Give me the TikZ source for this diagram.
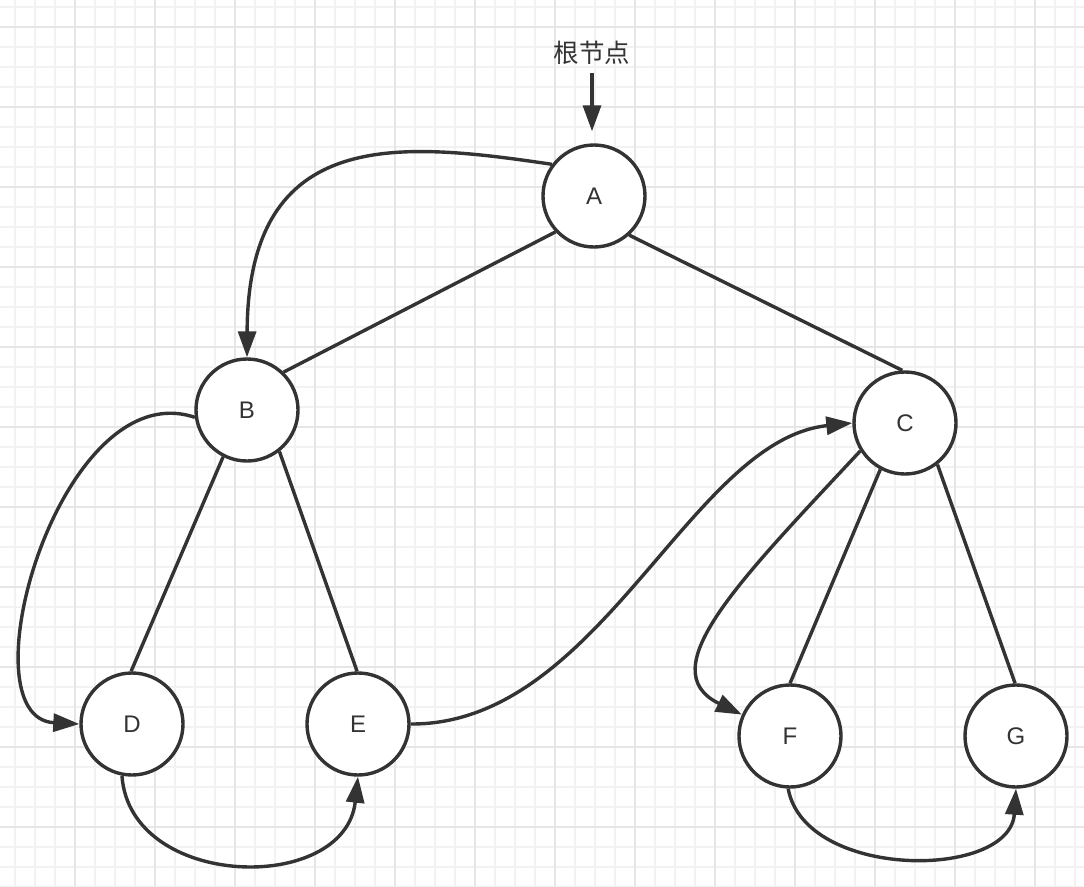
\documentclass[tikz,border=0pt]{standalone}
\usepackage{fontspec}
\setmainfont{Liberation Sans}
\newfontfamily\cjk{Noto Sans CJK SC}
\usetikzlibrary{arrows.meta}
\definecolor{ink}{HTML}{333333}
\definecolor{gridminor}{HTML}{F2F2F2}
\definecolor{gridmajor}{HTML}{E6E6E6}
\begin{document}
\begin{tikzpicture}[x=1pt,y=-1pt,
  vtx/.style={circle, draw=ink, fill=white, line width=3.4pt, minimum size=102pt, inner sep=0pt, text=ink, font=\fontsize{24}{28}\selectfont},
  edge/.style={draw=ink, line width=3.4pt},
  arr/.style={draw=ink, line width=3.4pt, -{Triangle[length=26pt,width=18pt]}},
  minorline/.style={draw=gridminor, line width=2pt},
  majorline/.style={draw=gridmajor, line width=2pt},
]
\useasboundingbox (0,0) rectangle (1084,886);
\fill[white] (0,0) rectangle (1084,886);
% grid
\foreach \x in {15,35,...,1075} \draw[minorline] (\x,0) -- (\x,886);
\foreach \y in {7,27,...,887} \draw[minorline] (0,\y) -- (1084,\y);
\foreach \x in {75,155,...,1035} \draw[majorline] (\x,0) -- (\x,886);
\foreach \y in {27,107,...,827} \draw[majorline] (0,\y) -- (1084,\y);
% nodes
\node[vtx] (A) at (594,196) {A};
\node[vtx] (B) at (247,410) {B};
\node[vtx] (C) at (905,423) {C};
\node[vtx] (D) at (132,724) {D};
\node[vtx] (E) at (358,724) {E};
\node[vtx] (F) at (790,736) {F};
\node[vtx] (G) at (1016,736) {G};
\node[text=ink, font=\cjk\fontsize{25.5}{30}\selectfont, inner sep=0pt] (root) at (592,53) {根节点};
% tree edges
\draw[edge] (A.223) -- (B.46);
\draw[edge] (A.312) -- (C.93);
\draw[edge] (B.243) -- (D.91);
\draw[edge] (B.308) -- (E.91);
\draw[edge] (C.242) -- (F.90);
\draw[edge] (C.308) -- (G.91);
% traversal arrows
\draw[arr, shorten <=8pt, shorten >=12pt] (root.south) -- (root.south |- A.north);
\draw[arr] (A.143) .. controls (400,142) and (248,125) .. (B.north);
\draw[arr] (B.188) .. controls (60,372) and (-38,718) .. (D.west);
\draw[arr] (D.259) .. controls (130,890) and (345,895) .. (E.south);
\draw[arr] (E.east) .. controls (600,725) and (690,440) .. (C.west);
\draw[arr] (C.212) .. controls (740,580) and (650,670) .. (F.156);
\draw[arr] (F.268) .. controls (805,880) and (1010,880) .. (G.south);
\end{tikzpicture}
\end{document}
